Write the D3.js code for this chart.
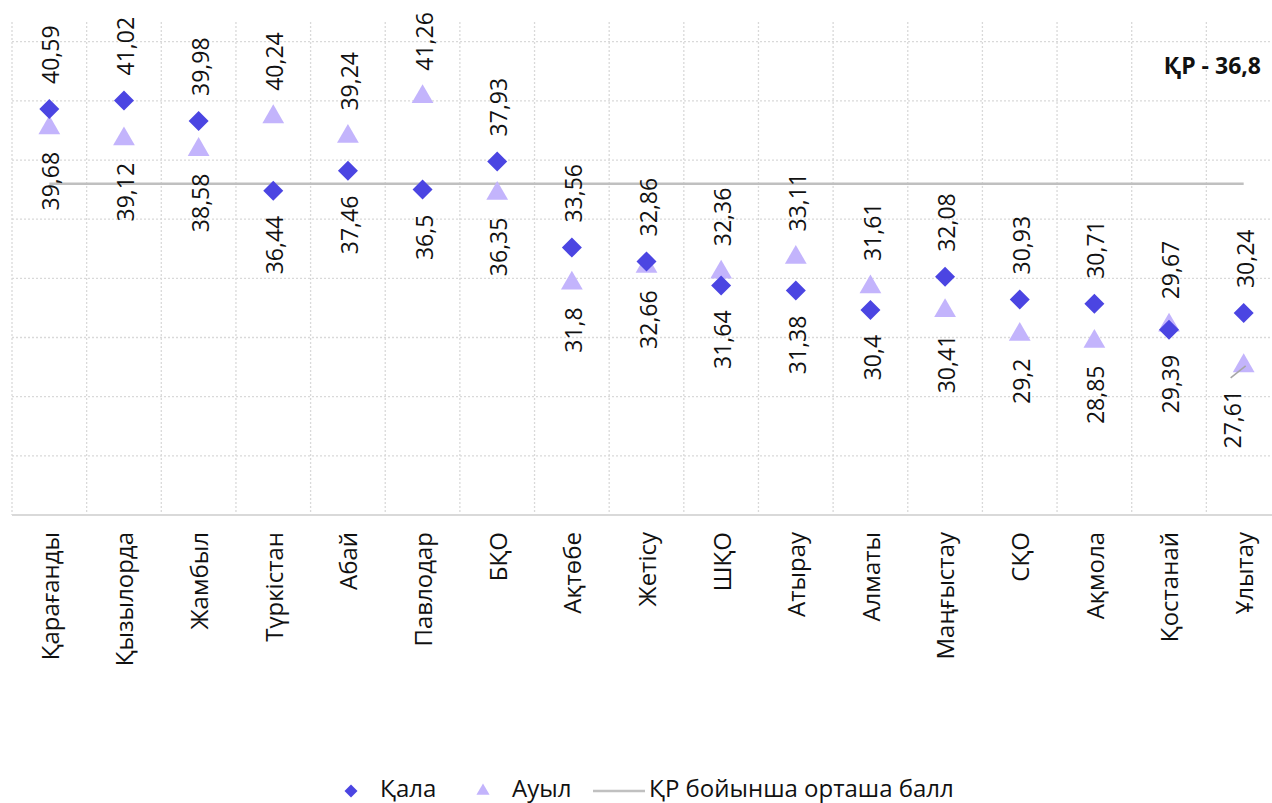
<!DOCTYPE html>
<html>
<head>
<meta charset="utf-8">
<script src="https://cdn.jsdelivr.net/npm/d3@7"></script>
<style>
  html, body { margin: 0; padding: 0; background: #ffffff; }
  svg { display: block; font-family: "Open Sans", "Noto Sans", sans-serif; }
</style>
</head>
<body>
<div id="chart"></div>
<script>
// regions, in the order they are shown
var regions = ["Қарағанды", "Қызылорда", "Жамбыл", "Түркістан", "Абай", "Павлодар", "БҚО",
       "Ақтөбе", "Жетісу", "ШҚО", "Атырау", "Алматы", "Маңғыстау", "СҚО", "Ақмола", "Қостанай", "Ұлытау"];

// average score, city schools
var cityValues = [40.59, 41.02, 39.98, 36.44, 37.46, 36.5, 37.93,
       33.56, 32.86, 31.64, 31.38, 30.4, 32.08, 30.93, 30.71, 29.39, 30.24];

// average score, rural schools
var ruralValues = [39.68, 39.12, 38.58, 40.24, 39.24, 41.26, 36.35,
       31.8, 32.66, 32.36, 33.11, 31.61, 30.41, 29.2, 28.85, 29.67, 27.61];

// national average
var nationalAvg = 36.8;

var yTicks = [23, 26, 29, 32, 35, 38, 41, 44];

var W = 1272, H = 803;
var plot = { left: 12, right: 1281, top: 22, bottom: 515 };

var cityColor = "#4b45e2";
var ruralColor = "#c3b4fc";
var avgColor = "#c0c0c0";
var gridColor = "#d9d9d9";

var svg = d3.select("#chart").append("svg")
       .attr("width", W)
       .attr("height", H);

var x = d3.scaleBand()
       .domain(regions)
       .range([plot.left, plot.right]);

var y = d3.scaleLinear()
       .domain([20, 45])
       .range([plot.bottom, plot.top]);

var cx = function (r) { return x(r) + x.bandwidth() / 2; };
var fmt = function (v) { return String(v).replace(".", ","); };

// horizontal grid
svg.append("g")
       .selectAll("line")
       .data(yTicks)
       .join("line")
       .attr("x1", plot.left)
       .attr("x2", plot.right)
       .attr("y1", d => y(d))
       .attr("y2", d => y(d))
       .style("stroke", gridColor)
       .style("stroke-width", 1.3)
       .style("stroke-dasharray", "2,2");

// vertical grid at band edges
svg.append("g")
       .selectAll("line")
       .data(regions)
       .join("line")
       .attr("x1", d => x(d))
       .attr("x2", d => x(d))
       .attr("y1", plot.top)
       .attr("y2", plot.bottom)
       .style("stroke", gridColor)
       .style("stroke-width", 1.3)
       .style("stroke-dasharray", "2,2");

// x axis line + category labels
svg.append("line")
       .attr("x1", plot.left)
       .attr("x2", plot.right)
       .attr("y1", plot.bottom)
       .attr("y2", plot.bottom)
       .style("stroke", gridColor)
       .style("stroke-width", 2);

svg.append("g")
       .selectAll("text")
       .data(regions)
       .join("text")
       .attr("transform", d => "translate(" + (cx(d) + 1) + "," + (plot.bottom + 17) + ") rotate(-90)")
       .attr("dy", "0.35em")
       .attr("text-anchor", "end")
       .style("font-size", "24px")
       .style("fill", "#111")
       .text(d => d);

// national average line
svg.append("line")
       .attr("x1", cx(regions[0]))
       .attr("x2", cx(regions[regions.length - 1]))
       .attr("y1", y(nationalAvg))
       .attr("y2", y(nationalAvg))
       .style("stroke", avgColor)
       .style("stroke-width", 2.5);

svg.append("text")
       .attr("x", 1261)
       .attr("y", 74)
       .attr("text-anchor", "end")
       .style("font-size", "23px")
       .style("font-weight", "bold")
       .style("fill", "#111")
       .text("ҚР - " + fmt(nationalAvg));

// markers
var diamond = d3.symbol().type(d3.symbolSquare).size(200);
var triangle = d3.symbol().type(d3.symbolTriangle).size(205);

svg.append("g")
       .selectAll("path")
       .data(regions)
       .join("path")
       .attr("d", triangle)
       .attr("transform", (d, i) => "translate(" + cx(d) + "," + (y(ruralValues[i]) + 1) + ")")
       .style("fill", ruralColor);

svg.append("g")
       .selectAll("path")
       .data(regions)
       .join("path")
       .attr("d", diamond)
       .attr("transform", (d, i) => "translate(" + cx(d) + "," + y(cityValues[i]) + ") rotate(45)")
       .style("fill", cityColor);

// value labels: the higher one above, the lower one below
var labels = [];
regions.forEach((r, i) => {
       var c = cityValues[i], a = ruralValues[i];
       labels.push({ r: r, v: Math.max(c, a), pos: "above", dx: 0 });
       labels.push({ r: r, v: Math.min(c, a), pos: "below", dx: 0 });
});
// last rural label was pushed aside in the original, with a leader line
var moved = labels[labels.length - 1];
moved.dx = -13;

var off = 25;
svg.append("g")
       .selectAll("text")
       .data(labels)
       .join("text")
       .attr("transform", d => {
              var ty = d.pos === "above" ? y(d.v) - off : y(d.v) + off;
              return "translate(" + (cx(d.r) + 2 + d.dx) + "," + ty + ") rotate(-90)";
       })
       .attr("dy", "0.35em")
       .attr("text-anchor", d => d.pos === "above" ? "start" : "end")
       .style("font-size", "23px")
       .style("fill", "#111")
       .text(d => fmt(d.v));

svg.append("line")
       .attr("x1", cx(moved.r) + moved.dx)
       .attr("y1", y(moved.v) + 13)
       .attr("x2", cx(moved.r) + 2)
       .attr("y2", y(moved.v) + 1)
       .style("stroke", "#a6a6a6")
       .style("stroke-width", 1.5);

// legend
var legY = 789;
var leg = svg.append("g");
leg.append("path")
       .attr("d", d3.symbol().type(d3.symbolSquare).size(85))
       .attr("transform", "translate(351," + (legY + 2) + ") rotate(45)")
       .style("fill", cityColor);
leg.append("text")
       .attr("x", 380).attr("y", legY).attr("dy", "0.35em")
       .style("font-size", "24px").style("fill", "#111")
       .text("Қала");
leg.append("path")
       .attr("d", d3.symbol().type(d3.symbolTriangle).size(75))
       .attr("transform", "translate(483," + (legY + 2) + ")")
       .style("fill", ruralColor);
leg.append("text")
       .attr("x", 512).attr("y", legY).attr("dy", "0.35em")
       .style("font-size", "24px").style("fill", "#111")
       .text("Ауыл");
leg.append("line")
       .attr("x1", 593).attr("x2", 645)
       .attr("y1", legY + 2).attr("y2", legY + 2)
       .style("stroke", avgColor)
       .style("stroke-width", 2.5);
leg.append("text")
       .attr("x", 649).attr("y", legY).attr("dy", "0.35em")
       .style("font-size", "24px").style("fill", "#111")
       .text("ҚР бойынша орташа балл");
</script>
</body>
</html>
